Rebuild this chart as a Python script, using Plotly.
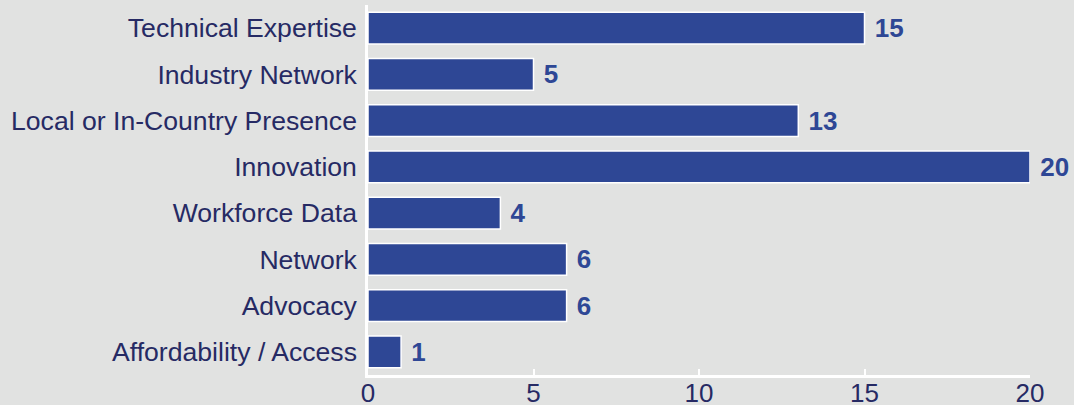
import plotly.graph_objects as go

categories = ["Technical Expertise", "Industry Network", "Local or In-Country Presence",
              "Innovation", "Workforce Data", "Network", "Advocacy", "Affordability / Access"]
values = [15, 5, 13, 20, 4, 6, 6, 1]
x_ticks = [0, 5, 10, 15, 20]

BG = "#e1e2e1"
BAR = "#2e4795"
NAVY = "#262a64"
FONT = "Liberation Sans, Arial, sans-serif"

fig = go.Figure(go.Bar(
    y=categories, x=values, orientation="h",
    marker=dict(color=BAR, line=dict(color="white", width=1.5)),
    width=0.69,
    text=["\u00a0" + str(v) for v in values],
    textposition="outside",
    constraintext="none",
    textfont=dict(family=FONT, size=26, color=BAR, weight="bold"),
    cliponaxis=False,
))

fig.update_layout(
    width=1074, height=405,
    paper_bgcolor=BG, plot_bgcolor=BG,
    margin=dict(l=368, r=44, t=5, b=30, autoexpand=False),
    showlegend=False,
    font=dict(family=FONT, color=NAVY),
    uniformtext=dict(mode=False),
)
fig.update_xaxes(
    range=[0, 20], tickvals=x_ticks, showgrid=False, zeroline=False,
    showline=True, linecolor="white", linewidth=2.5,
    ticks="inside", tickcolor="white", ticklen=6, tickwidth=2,
    tickfont=dict(family=FONT, size=26, color=NAVY),
    ticklabelstandoff=-7,
    automargin=False,
)
fig.update_yaxes(
    autorange="reversed", showgrid=False, zeroline=False,
    showline=True, linecolor="white", linewidth=2.5,
    ticks="", ticklabelstandoff=3,
    tickfont=dict(family=FONT, size=26.6, color=NAVY),
    automargin=False,
)

fig.write_html("out.html")
